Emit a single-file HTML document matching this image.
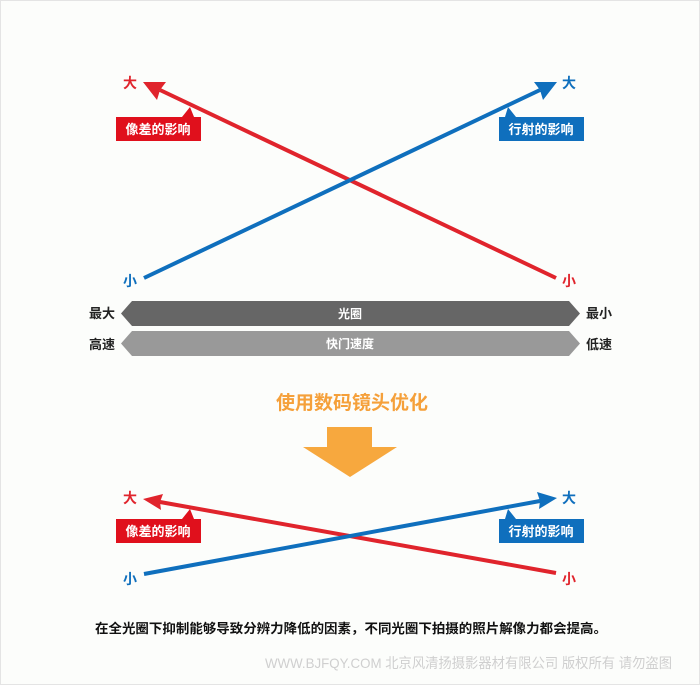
<!DOCTYPE html>
<html><head><meta charset="utf-8"><style>
html,body{margin:0;padding:0;background:#fcfdfb;}
svg{display:block;}
text{font-family:"Liberation Sans","Noto Sans CJK SC",sans-serif;}
</style></head><body>
<svg width="700" height="685" viewBox="0 0 700 685" xmlns="http://www.w3.org/2000/svg">
<rect x="0.5" y="0.5" width="699" height="684" fill="#fcfdfb" stroke="#e4e4e4"/>
<defs>
<marker id="ar" markerWidth="8" markerHeight="8" refX="6" refY="4" orient="auto" markerUnits="userSpaceOnUse" viewBox="0 0 8 8"><path d="M0,0 L8,4 L0,8 L2,4 Z" fill="#e0202a"/></marker>
</defs>
<g font-weight="bold">
<!-- top diagram -->
<line x1="556" y1="278" x2="160" y2="90" stroke="#e0242c" stroke-width="4"/>
<polygon points="143,82 166,82 160,90 157,100" fill="#e0242c"/>
<line x1="144" y1="278" x2="540" y2="90" stroke="#0f6fbd" stroke-width="4"/>
<polygon points="557,82 534,82 540,90 543,100" fill="#0f6fbd"/>
<text x="130" y="88" font-size="14" fill="#e0242c" text-anchor="middle">大</text>
<text x="569" y="88" font-size="14" fill="#0f6fbd" text-anchor="middle">大</text>
<text x="130" y="286" font-size="14" fill="#0f6fbd" text-anchor="middle">小</text>
<text x="569" y="286" font-size="14" fill="#e0242c" text-anchor="middle">小</text>
<path d="M116,117 H182 L190,107 L194,117 H201 V141 H116 Z" fill="#e0101c"/>
<text x="158" y="134" font-size="13" fill="#fff" text-anchor="middle">像差的影响</text>
<path d="M499,117 H505 L508,107 L516,117 H584 V141 H499 Z" fill="#0f6fbd"/>
<text x="541" y="134" font-size="13" fill="#fff" text-anchor="middle">行射的影响</text>
<polygon points="121,313.5 132,301 569,301 580,313.5 569,326 132,326" fill="#666"/>
<text x="350" y="318" font-size="12" fill="#fff" text-anchor="middle">光圈</text>
<polygon points="121,343.5 132,331 569,331 580,343.5 569,356 132,356" fill="#999"/>
<text x="350" y="348" font-size="12" fill="#fff" text-anchor="middle">快门速度</text>
<text x="102" y="318" font-size="13" fill="#222" text-anchor="middle">最大</text>
<text x="599" y="318" font-size="13" fill="#222" text-anchor="middle">最小</text>
<text x="102" y="349" font-size="13" fill="#222" text-anchor="middle">高速</text>
<text x="599" y="349" font-size="13" fill="#222" text-anchor="middle">低速</text>
<!-- middle -->
<text x="352" y="409" font-size="19" fill="#f5a03a" text-anchor="middle">使用数码镜头优化</text>
<polygon points="327,427 372,427 372,447 397,447 350,477 303,447 327,447" fill="#f7a83e"/>
<!-- bottom diagram -->
<line x1="556" y1="573" x2="160" y2="502" stroke="#e0242c" stroke-width="4"/>
<polygon points="143,499 163,494 160,502 161,510" fill="#e0242c"/>
<line x1="144" y1="574" x2="540" y2="501" stroke="#0f6fbd" stroke-width="4"/>
<polygon points="557,498 537,492 540,501 539,509" fill="#0f6fbd"/>
<text x="130" y="503" font-size="14" fill="#e0242c" text-anchor="middle">大</text>
<text x="569" y="503" font-size="14" fill="#0f6fbd" text-anchor="middle">大</text>
<text x="130" y="584" font-size="14" fill="#0f6fbd" text-anchor="middle">小</text>
<text x="569" y="584" font-size="14" fill="#e0242c" text-anchor="middle">小</text>
<path d="M116,519 H182 L190,509 L194,519 H201 V543 H116 Z" fill="#e0101c"/>
<text x="158" y="536" font-size="13" fill="#fff" text-anchor="middle">像差的影响</text>
<path d="M499,519 H505 L508,509 L516,519 H584 V543 H499 Z" fill="#0f6fbd"/>
<text x="541" y="536" font-size="13" fill="#fff" text-anchor="middle">行射的影响</text>
<text x="351" y="633" font-size="13" fill="#111" text-anchor="middle" textLength="512" lengthAdjust="spacingAndGlyphs">在全光圈下抑制能够导致分辨力降低的因素，不同光圈下拍摄的照片解像力都会提高。</text>
</g>
<text x="265" y="668" font-size="14" fill="#cfcfcf" textLength="407" lengthAdjust="spacingAndGlyphs">WWW.BJFQY.COM 北京风清扬摄影器材有限公司 版权所有 请勿盗图</text>
</svg>
</body></html>
